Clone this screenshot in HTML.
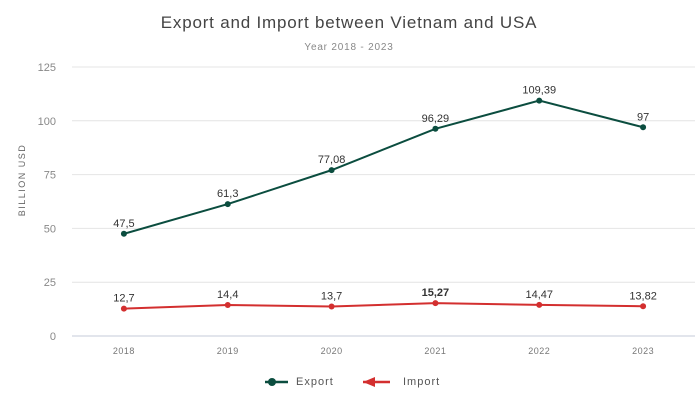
<!DOCTYPE html>
<html><head><meta charset="utf-8"><style>
body{margin:0;background:#fff;}
svg{display:block;font-family:"Liberation Sans",sans-serif;}
</style></head><body>
<svg id="c" width="698" height="416" xmlns="http://www.w3.org/2000/svg">
<text x="349" y="28" text-anchor="middle" font-size="17" fill="#444" letter-spacing="0.8">Export and Import between Vietnam and USA</text>
<text x="349" y="50" text-anchor="middle" font-size="10" fill="#888" letter-spacing="0.8">Year 2018 - 2023</text>
<text transform="translate(25,180) rotate(-90)" text-anchor="middle" font-size="9" fill="#666" letter-spacing="1.5">BILLION USD</text>
<g id="grid"></g><g id="series"></g>
<g>
<g>
<line x1="265" y1="382" x2="288" y2="382" stroke="#0b4d3f" stroke-width="2.5"/><circle cx="272" cy="382" r="4" fill="#0b4d3f"/>
<text x="296" y="385" font-size="11" fill="#555" letter-spacing="1">Export</text></g>
<g>
<line x1="363" y1="382" x2="390" y2="382" stroke="#d32f2f" stroke-width="2.5"/><polygon points="363,382 375,377 375,387" fill="#d32f2f"/>
<text x="403" y="385" font-size="11" fill="#555" letter-spacing="1">Import</text></g>
</g>
</svg>
<script>
const years=["2018","2019","2020","2021","2022","2023"];
const exportVals=[47.5,61.3,77.08,96.29,109.39,97];
const importVals=[12.7,14.4,13.7,15.27,14.47,13.82];
const exportLabels=["47,5","61,3","77,08","96,29","109,39","97"];
const importLabels=["12,7","14,4","13,7","15,27","14,47","13,82"];
const yTicks=[0,25,50,75,100,125];
const NS="http://www.w3.org/2000/svg";
const x0=72,x1=695,y0=336,y1=67,yMax=125;
const bw=(x1-x0)/years.length;
const X=i=>x0+bw*(i+0.5);
const Y=v=>y0-(v/yMax)*(y0-y1);
function mk(t,a,p){const e=document.createElementNS(NS,t);for(const k in a)e.setAttribute(k,a[k]);p.appendChild(e);return e;}
const g=document.getElementById('grid'),s=document.getElementById('series');
yTicks.forEach(v=>{
 const l=mk('line',{x1:x0,x2:x1,y1:Y(v),y2:Y(v),stroke:v===0?'#c5cbd8':'#e4e4e4','stroke-width':1},g);
 
 
 const t=mk('text',{x:56,y:Y(v)+4,'text-anchor':'end','font-size':11,fill:'#888'},g);
 t.textContent=v;
 
 
});
years.forEach((y,i)=>{
 const t=mk('text',{x:X(i),y:354,'text-anchor':'middle','font-size':9,fill:'#777','letter-spacing':'0.5'},g);
 t.textContent=y;
 
 
});
function series(vals,labels,color,name,bold){
 const p=mk('polyline',{points:vals.map((v,i)=>X(i)+','+Y(v)).join(' '),fill:'none',stroke:color,'stroke-width':2},s);
 
 
 vals.forEach((v,i)=>{
  const c=mk('circle',{cx:X(i),cy:Y(v),r:3,fill:color},s);
  
  
  const t=mk('text',{x:X(i),y:Y(v)-7,'text-anchor':'middle','font-size':11,fill:'#333','font-weight':(bold&&i===3)?'bold':'normal'},s);
  t.textContent=labels[i];
  
  
 });
}
series(exportVals,exportLabels,'#0b4d3f','export',false);
series(importVals,importLabels,'#d32f2f','import',true);
</script>
</body></html>
